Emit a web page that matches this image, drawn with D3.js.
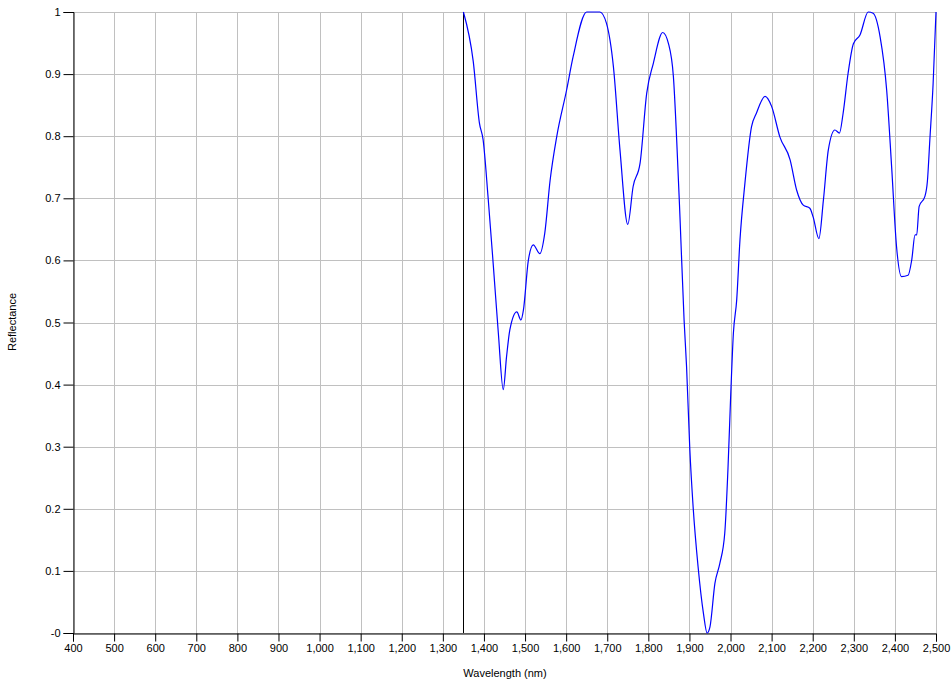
<!DOCTYPE html>
<html>
<head>
<meta charset="utf-8">
<script src="https://cdn.jsdelivr.net/npm/d3@7"></script>
<style>
  body { margin: 0; background: #fff; }
  svg text { font-family: "Liberation Sans", Arial, sans-serif; font-size: 11px; fill: #000; }
</style>
</head>
<body>
<script>
// spectrum
var wavelengths = [1350, 1374, 1389, 1398, 1410, 1423, 1435, 1447, 1455, 1463, 1480, 1490, 1496, 1508, 1520, 1536, 1548, 1561, 1577, 1601, 1617, 1650, 1682, 1698, 1715, 1731, 1750, 1763, 1780, 1796, 1812, 1835, 1849, 1861, 1869, 1877, 1887, 1893, 1901, 1909, 1921, 1934, 1943, 1950, 1962, 1974, 1986, 1994, 2000, 2007, 2015, 2023, 2035, 2051, 2063, 2084, 2100, 2120, 2145, 2161, 2177, 2193, 2201, 2215, 2226, 2238, 2254, 2265, 2274, 2286, 2299, 2315, 2335, 2347, 2364, 2380, 2392, 2404, 2416, 2432, 2441, 2449, 2453, 2459, 2473, 2479, 2485, 2493, 2500];
var reflectance = [1.0, 0.92, 0.821, 0.794, 0.702, 0.59, 0.483, 0.392, 0.445, 0.488, 0.517, 0.504, 0.52, 0.60, 0.625, 0.611, 0.644, 0.729, 0.799, 0.874, 0.928, 1.0, 1.0, 0.982, 0.912, 0.778, 0.658, 0.719, 0.757, 0.869, 0.917, 0.967, 0.949, 0.896, 0.794, 0.670, 0.504, 0.429, 0.295, 0.203, 0.107, 0.032, 0.0, 0.01, 0.08, 0.112, 0.161, 0.268, 0.375, 0.483, 0.536, 0.633, 0.724, 0.815, 0.837, 0.864, 0.848, 0.799, 0.762, 0.713, 0.689, 0.684, 0.670, 0.635, 0.697, 0.778, 0.810, 0.805, 0.837, 0.901, 0.949, 0.963, 1.0, 0.998, 0.960, 0.874, 0.751, 0.622, 0.574, 0.576, 0.601, 0.641, 0.641, 0.687, 0.703, 0.727, 0.794, 0.885, 1.0];
var xTicks = [400, 500, 600, 700, 800, 900, 1000, 1100, 1200, 1300, 1400, 1500, 1600, 1700, 1800, 1900, 2000, 2100, 2200, 2300, 2400, 2500];
var yTicks = [0, 0.1, 0.2, 0.3, 0.4, 0.5, 0.6, 0.7, 0.8, 0.9, 1];
var markerWavelength = 1350;

var width = 951, height = 690;
var margin = {left: 73, right: 15, top: 12, bottom: 57};

var svg = d3.select("body").append("svg")
    .attr("width", width)
    .attr("height", height);

var x = d3.scaleLinear().domain([400, 2500]).range([margin.left, width - margin.right]);
var y = d3.scaleLinear().domain([0, 1]).range([height - margin.bottom, margin.top]);

// grid
svg.append("g").selectAll("line").data(xTicks).enter().append("line")
    .attr("x1", function(d){ return Math.round(x(d)) + 0.5; })
    .attr("x2", function(d){ return Math.round(x(d)) + 0.5; })
    .attr("y1", y(1)).attr("y2", y(0))
    .style("stroke", "#c0c0c0");
svg.append("g").selectAll("line").data(yTicks).enter().append("line")
    .attr("y1", function(d){ return Math.round(y(d)) + 0.5; })
    .attr("y2", function(d){ return Math.round(y(d)) + 0.5; })
    .attr("x1", x(400)).attr("x2", x(2500))
    .style("stroke", "#c0c0c0");

// axes
var fmtX = d3.format(",");
var xAxis = d3.axisBottom(x).tickValues(xTicks).tickFormat(fmtX).tickSizeOuter(0).tickSize(8).tickPadding(1);
var yAxis = d3.axisLeft(y).tickValues(yTicks).tickFormat(function(d){ return d === 0 ? "-0" : String(d); }).tickSizeOuter(0).tickSize(10).tickPadding(3);

var gx = svg.append("g").attr("transform", "translate(0," + (Math.round(y(0)) + 0.5) + ")").call(xAxis);
var gy = svg.append("g").attr("transform", "translate(" + (Math.round(x(400)) + 0.5) + ",0)").call(yAxis);
[gx, gy].forEach(function(g){
  g.selectAll("path, line").style("stroke", "#000");
  g.selectAll("text").style("font-family", "Liberation Sans, Arial, sans-serif").style("font-size", "11px");
});
gx.selectAll("text").attr("dy", "0.85em");

// marker line
svg.append("line")
    .attr("x1", Math.round(x(markerWavelength)) + 0.5)
    .attr("x2", Math.round(x(markerWavelength)) + 0.5)
    .attr("y1", y(1)).attr("y2", y(0))
    .style("stroke", "#000");

// spectrum
var pts = wavelengths.map(function(w, i){ return [w, reflectance[i]]; });
var line = d3.line()
    .x(function(d){ return x(d[0]); })
    .y(function(d){ return y(d[1]); })
    .curve(d3.curveMonotoneX);
svg.append("path")
    .datum(pts)
    .attr("d", line)
    .style("fill", "none")
    .style("stroke", "#0000ff")
    .style("stroke-width", 1.2);

// titles
svg.append("text")
    .attr("x", 505).attr("y", 677)
    .style("text-anchor", "middle")
    .text("Wavelength (nm)");
svg.append("text")
    .attr("transform", "translate(16,322) rotate(-90)")
    .style("text-anchor", "middle")
    .text("Reflectance");
</script>
</body>
</html>
